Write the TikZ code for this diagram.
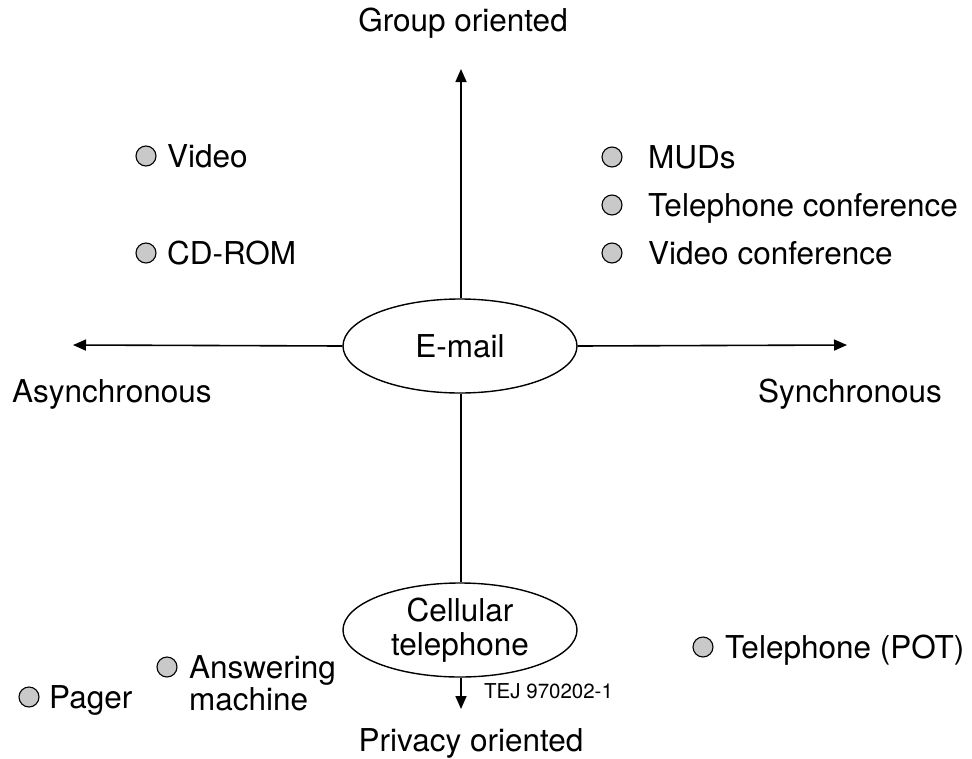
\documentclass[tikz,border=0pt]{standalone}
\usepackage{fontspec}
\setmainfont{TeX Gyre Heros}
\usetikzlibrary{shapes.geometric,arrows.meta}

\begin{document}
\begin{tikzpicture}[x=1pt,y=-1pt,
  lbl/.style={inner sep=0pt,font=\fontsize{31.5}{33}\selectfont},
  item/.style={lbl,anchor=base west},
  dot/.style={circle,draw,line width=1.1pt,fill=black!21,minimum size=20pt,inner sep=0pt},
  oval/.style={ellipse,draw,line width=1.4pt,minimum width=234pt,minimum height=94pt,inner sep=0pt,
    font=\fontsize{31.5}{34}\selectfont,align=center},
  axis/.style={line width=1.6pt,-{Triangle[length=13pt,width=11pt]}}
]
\useasboundingbox (0,0) rectangle (972,758);

% central nodes
\node[oval] (email) at (460,346) {E-mail};
\node[oval] (cell) at (460,630) {Cellular\\telephone};

% axis end points
\coordinate (top) at (461,69);
\coordinate (left) at (73,345);
\coordinate (right) at (847,345);
\coordinate (bottom) at (461,709);

\draw[axis] (email.north -| top) -- (top);
\draw[axis] (email.west) -- (left);
\draw[axis] (email.east) -- (right);
\draw[line width=1.6pt] (email.south -| top) -- (cell.north -| top);
\draw[axis] (cell.south -| bottom) -- (bottom);

% axis labels
\node[lbl,anchor=base] (group) at (463,31) {Group oriented};
\node[lbl,anchor=base] (privacy) at (471,751) {Privacy oriented};
\node[item] (async) at (12,402) {Asynchronous};
\node[item] (sync) at (758,402) {Synchronous};

% media
\node[dot] (d1) at (146,156) {};
\node[item] (video) at (167,167) {Video};
\node[dot] (d2) at (146,253) {};
\node[item] (cdrom) at (167,264) {CD-ROM};

\node[dot] (d3) at (612,157) {};
\node[item] (muds) at (648,168) {MUDs};
\node[dot] (d4) at (612,205) {};
\node[item] (telconf) at (648,216) {Telephone conference};
\node[dot] (d5) at (612,253) {};
\node[item] (vidconf) at (648,264) {Video conference};

\node[dot] (d6) at (703,647) {};
\node[item] (pot) at (725,658) {Telephone (POT)};

\node[dot] (d7) at (167,667) {};
\node[item] (answer) at (189,678) {Answering};
\node[item] (machine) at (189,710) {machine};

\node[dot] (d8) at (29,697) {};
\node[item] (pager) at (49,708) {Pager};

\node[inner sep=0pt,anchor=base west,font=\fontsize{20.5}{22}\selectfont] (tej) at (484,698) {TEJ 970202-1};
\end{tikzpicture}
\end{document}
